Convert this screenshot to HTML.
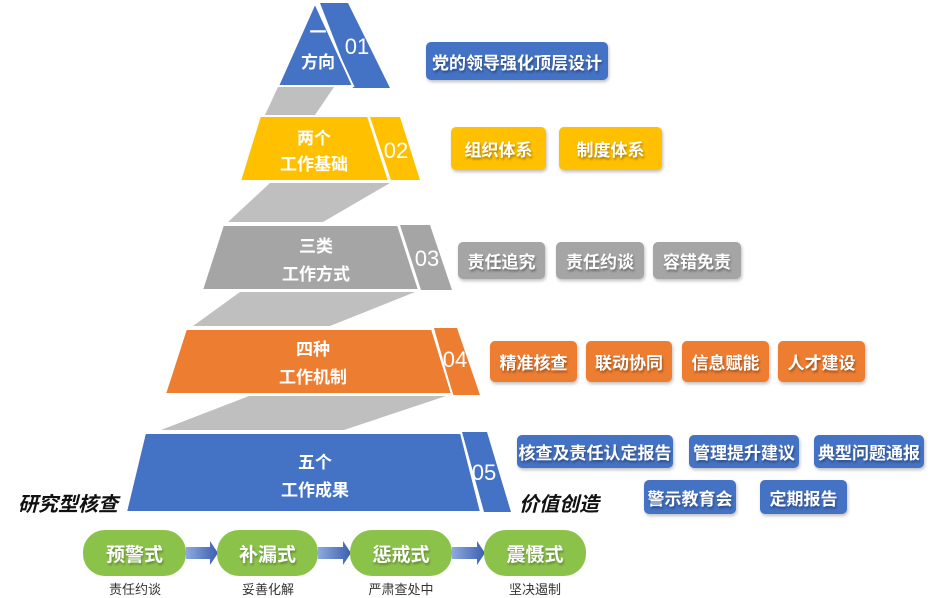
<!DOCTYPE html>
<html><head><meta charset="utf-8"><style>
body{margin:0;width:939px;height:598px;background:#fff;overflow:hidden;position:relative;font-family:"Liberation Sans","Noto Sans CJK SC",sans-serif}
.t{position:absolute;color:#fff;font-weight:bold;font-size:17px;display:flex;align-items:center;justify-content:center;border-radius:5px;text-shadow:1px 2px 2px rgba(0,0,0,.35);box-shadow:1px 2px 3px rgba(0,0,0,.25)}
.b{background:#4472C4}.y{background:#FFC000}.g{background:#A5A5A5}.o{background:#ED7D31}
.p{position:absolute;background:#8BC34A;border-radius:22px;color:#fff;font-weight:bold;font-size:19px;display:flex;align-items:center;justify-content:center;text-shadow:1px 2px 2px rgba(0,0,0,.3)}
.s{position:absolute;font-size:13px;color:#333;width:110px;text-align:center}
.i{position:absolute;font-style:italic;font-weight:bold;font-size:20px;color:#111}
</style></head><body>
<svg width="939" height="598" style="position:absolute;left:0;top:0" font-family="Liberation Sans,Noto Sans CJK SC,sans-serif">
<g fill="#BFBFBF">
<polygon points="278,87 334,87 315,115 265,115"/>
<polygon points="270,183 390,183 323,222 228,222"/>
<polygon points="240,292 415,292 330,326 193,326"/>
<polygon points="249,396 446,396 344,430 161,430"/>
</g>
<polygon points="320,3 348,3 390,88 353,88" fill="#4472C4"/>
<polygon points="315,3 353,86 278,86" fill="#4472C4" stroke="#fff" stroke-width="2"/>
<polygon points="370,117 400,117 420,180 391,180" fill="#FFC000"/>
<polygon points="260,116 368,116 389,181 240,181" fill="#FFC000" stroke="#fff" stroke-width="2"/>
<polygon points="400,225 430,225 452,290 421,290" fill="#A5A5A5"/>
<polygon points="223,225 398,225 419,290 202,290" fill="#A5A5A5" stroke="#fff" stroke-width="2"/>
<polygon points="434,328 457,328 480,395 453,395" fill="#ED7D31"/>
<polygon points="186,329 432,329 452,394 165,394" fill="#ED7D31" stroke="#fff" stroke-width="2"/>
<polygon points="462,432 487,432 511,512 484,512" fill="#4472C4"/>
<polygon points="145,433 461,433 481,512 126,512" fill="#4472C4" stroke="#fff" stroke-width="2"/>
<g fill="#fff" font-size="22" text-anchor="middle"><text x="357" y="54">01</text><text x="396" y="158">02</text><text x="427" y="266">03</text><text x="455" y="367">04</text><text x="484" y="480">05</text></g>
<g fill="#fff" font-size="17" font-weight="bold" text-anchor="middle">
<text x="318" y="38">一</text><text x="318" y="68">方向</text>
<text x="314" y="144">两个</text><text x="314" y="170">工作基础</text>
<text x="316" y="252">三类</text><text x="316" y="280">工作方式</text>
<text x="313" y="355">四种</text><text x="313" y="383">工作机制</text>
<text x="315" y="468">五个</text><text x="315" y="496">工作成果</text>
</g>
<defs><linearGradient id="ag" x1="0" x2="1"><stop offset="0" stop-color="#8FA9DC"/><stop offset="1" stop-color="#3A5FB0"/></linearGradient></defs>
<g fill="url(#ag)">
<polygon points="186,547 210,547 210,541 218,553 210,565 210,559 186,559"/>
<polygon points="318,547 343,547 343,541 351,553 343,565 343,559 318,559"/>
<polygon points="452,547 477,547 477,541 485,553 477,565 477,559 452,559"/>
</g>
</svg>
<div class="t b" style="left:426px;top:42px;width:182px;height:38px">党的领导强化顶层设计</div>
<div class="t y" style="left:451px;top:127px;width:95px;height:43px">组织体系</div>
<div class="t y" style="left:559px;top:127px;width:103px;height:43px">制度体系</div>
<div class="t g" style="left:458px;top:242px;width:87px;height:37px">责任追究</div>
<div class="t g" style="left:556px;top:242px;width:88px;height:37px">责任约谈</div>
<div class="t g" style="left:653px;top:242px;width:88px;height:37px">容错免责</div>
<div class="t o" style="left:490px;top:341px;width:87px;height:41px">精准核查</div>
<div class="t o" style="left:586px;top:341px;width:86px;height:41px">联动协同</div>
<div class="t o" style="left:682px;top:341px;width:87px;height:41px">信息赋能</div>
<div class="t o" style="left:778px;top:341px;width:87px;height:41px">人才建设</div>
<div class="t b" style="left:517px;top:435px;width:156px;height:33px">核查及责任认定报告</div>
<div class="t b" style="left:689px;top:435px;width:110px;height:33px">管理提升建议</div>
<div class="t b" style="left:814px;top:435px;width:110px;height:33px">典型问题通报</div>
<div class="t b" style="left:644px;top:480px;width:92px;height:34px">警示教育会</div>
<div class="t b" style="left:760px;top:480px;width:87px;height:34px">定期报告</div>
<div class="i" style="left:18px;top:488px">研究型核查</div>
<div class="i" style="left:519px;top:488px">价值创造</div>
<div class="p" style="left:83px;top:530px;width:103px;height:46px">预警式</div>
<div class="p" style="left:217px;top:530px;width:101px;height:46px">补漏式</div>
<div class="p" style="left:350px;top:530px;width:102px;height:46px">惩戒式</div>
<div class="p" style="left:484px;top:530px;width:102px;height:46px">震慑式</div>
<div class="s" style="left:80px;top:579px">责任约谈</div>
<div class="s" style="left:213px;top:579px">妥善化解</div>
<div class="s" style="left:346px;top:579px">严肃查处中</div>
<div class="s" style="left:480px;top:579px">坚决遏制</div>
</body></html>
